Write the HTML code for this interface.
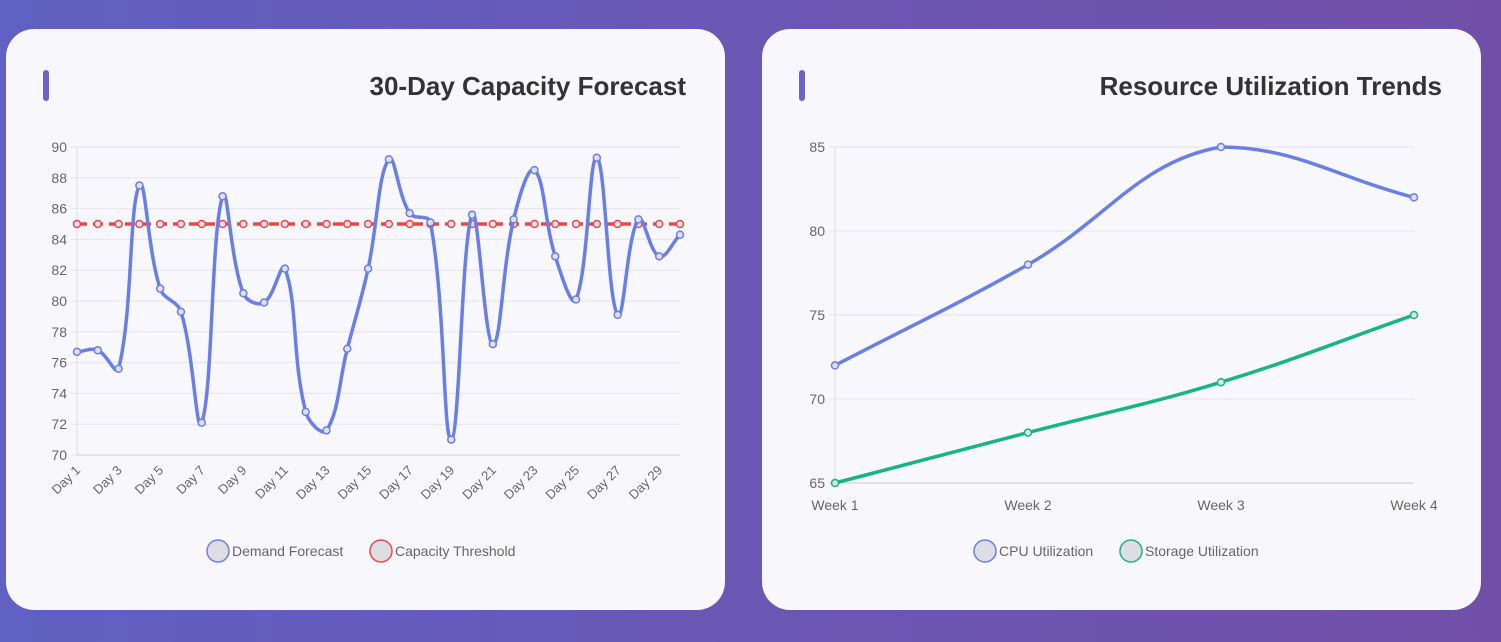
<!DOCTYPE html>
<html><head><meta charset="utf-8">
<style>
html,body{margin:0;padding:0;width:1501px;height:642px;overflow:hidden;font-family:"Liberation Sans",sans-serif;}
body{background:linear-gradient(90deg,#6061c2 0%,#6a57b4 50%,#714fa8 100%);position:relative;}
.card{position:absolute;top:29px;width:719px;height:581px;background:#f8f7fb;border-radius:28px;}
.accent{position:absolute;left:37px;top:41px;width:6px;height:31px;border-radius:3px;background:#6b63c6;}
.title{position:absolute;right:39px;top:42px;font-size:26px;font-weight:bold;color:#333;}
svg{position:absolute;left:0;top:0;}
</style></head><body>
<div class="card" style="left:6px">
<div class="accent"></div>
<div class="title">30-Day Capacity Forecast</div>
<svg id="c1" width="719" height="581"></svg>
</div>
<div class="card" style="left:762px">
<div class="accent"></div>
<div class="title">Resource Utilization Trends</div>
<svg id="c2" width="719" height="581"></svg>
</div>
<script>
const days = Array.from({length:30},(_,i)=>'Day '+(i+1));
const demand = [76.7,76.8,75.6,87.5,80.8,79.3,72.1,86.8,80.5,79.9,82.1,72.8,71.6,76.9,82.1,89.2,85.7,85.1,71.0,85.6,77.2,85.3,88.5,82.9,80.1,89.3,79.1,85.3,82.9,84.3];
const threshold = new Array(30).fill(85);
const ticks1 = [70,72,74,76,78,80,82,84,86,88,90];
const weeks = ['Week 1','Week 2','Week 3','Week 4'];
const cpu = [72,78,85,82];
const storage = [65,68,71,75];
const ticks2 = [65,70,75,80,85];
const NS='http://www.w3.org/2000/svg';
function mk(svg,tag,a){const e=document.createElementNS(NS,tag);for(const k in a)e.setAttribute(k,a[k]);svg.appendChild(e);return e;}
function spline(pts,t,ymin,ymax){
  let d='M'+pts[0][0]+','+pts[0][1];
  const cl=v=>Math.max(ymin,Math.min(ymax,v));
  const cps=pts.map((p,i)=>{
    const pr=pts[Math.max(i-1,0)],nx=pts[Math.min(i+1,pts.length-1)];
    const d01=Math.hypot(p[0]-pr[0],p[1]-pr[1]),d12=Math.hypot(nx[0]-p[0],nx[1]-p[1]);
    let fa=d01/(d01+d12)||0,fb=d12/(d01+d12)||0;fa*=t;fb*=t;
    return [[p[0]-fa*(nx[0]-pr[0]),cl(p[1]-fa*(nx[1]-pr[1]))],[p[0]+fb*(nx[0]-pr[0]),cl(p[1]+fb*(nx[1]-pr[1]))]];
  });
  for(let i=1;i<pts.length;i++){const a=cps[i-1][1],b=cps[i][0];d+=` C${a[0]},${a[1]} ${b[0]},${b[1]} ${pts[i][0]},${pts[i][1]}`;}
  return d;
}
function chart(svg,o){
  const X=i=>o.x0+i*(o.x1-o.x0)/(o.n-1);
  const Y=v=>o.y0-(v-o.vmin)/(o.vmax-o.vmin)*(o.y0-o.y1);
  o.ticks.forEach(t=>{
    const l=mk(svg,'line',{x1:o.x0-6,x2:o.x1,y1:Y(t),y2:Y(t),stroke:'#e6e4ec','stroke-width':1});
    
    const tx=mk(svg,'text',{x:o.x0-10,y:Y(t)+5,'text-anchor':'end','font-size':14,fill:'#666'});tx.textContent=t;
    
  });
  mk(svg,'line',{x1:o.x0,x2:o.x0,y1:o.y1,y2:o.y0,stroke:'#ddd'});
  mk(svg,'line',{x1:o.x0,x2:o.x1,y1:o.y0,y2:o.y0,stroke:'#ccc'});
  o.labels.forEach((lb,i)=>{
    if(o.rot){ if(i%2) return;
      const tx=mk(svg,'text',{x:X(i)+4,y:o.y0+16,'text-anchor':'end','font-size':13,fill:'#666',transform:`rotate(-45 ${X(i)+4} ${o.y0+16})`});tx.textContent=lb;
      
    } else {
      const tx=mk(svg,'text',{x:X(i),y:o.y0+27,'text-anchor':'middle','font-size':14,fill:'#666'});tx.textContent=lb;
      
    }
  });
  o.series.forEach(s=>{
    const pts=s.data.map((v,i)=>[X(i),Y(v)]);
    const p=mk(svg,'path',{d:s.dash?'M'+pts.map(p=>p.join(',')).join(' L'):spline(pts,0.4,o.y1,o.y0),fill:'none',stroke:s.color,'stroke-width':3.5,'stroke-dasharray':s.dash||''});
    
    pts.forEach(q=>{const c=mk(svg,'circle',{cx:q[0],cy:q[1],r:3.5,fill:'#e0e0e8',stroke:s.color,'stroke-width':1.5});
      });
  });
}
const s1=document.getElementById('c1'), s2=document.getElementById('c2');
chart(s1,{x0:71,x1:674,y0:426,y1:118,n:30,vmin:70,vmax:90,ticks:ticks1,labels:days,rot:true,
  series:[{name:'capacity-threshold',data:threshold,color:'#e94848',dash:'10,6'},{name:'demand-forecast',data:demand,color:'#6a7fe6'}]});
chart(s2,{x0:73,x1:652,y0:454,y1:118,n:4,vmin:65,vmax:85,ticks:ticks2,labels:weeks,rot:false,
  series:[{name:'cpu-utilization',data:cpu,color:'#6a7fe6'},{name:'storage-utilization',data:storage,color:'#16b582'}]});
function legend(svg,items){
  items.forEach(it=>{
    const g=mk(svg,'g',{});
    
    const c=document.createElementNS(NS,'circle');[['cx',it.x],['cy',522],['r',11],['fill','#dedde3'],['stroke',it.color],['stroke-width',1.5]].forEach(a=>c.setAttribute(a[0],a[1]));g.appendChild(c);
    const t=document.createElementNS(NS,'text');[['x',it.x+14],['y',527],['font-size',14],['fill','#666']].forEach(a=>t.setAttribute(a[0],a[1]));t.textContent=it.label;g.appendChild(t);
  });
}
legend(s1,[{name:'legend-demand-forecast',x:212,color:'#6a7fe6',label:'Demand Forecast'},{name:'legend-capacity-threshold',x:375,color:'#e94848',label:'Capacity Threshold'}]);
legend(s2,[{name:'legend-cpu-utilization',x:223,color:'#6a7fe6',label:'CPU Utilization'},{name:'legend-storage-utilization',x:369,color:'#16b582',label:'Storage Utilization'}]);
</script>
</body></html>
